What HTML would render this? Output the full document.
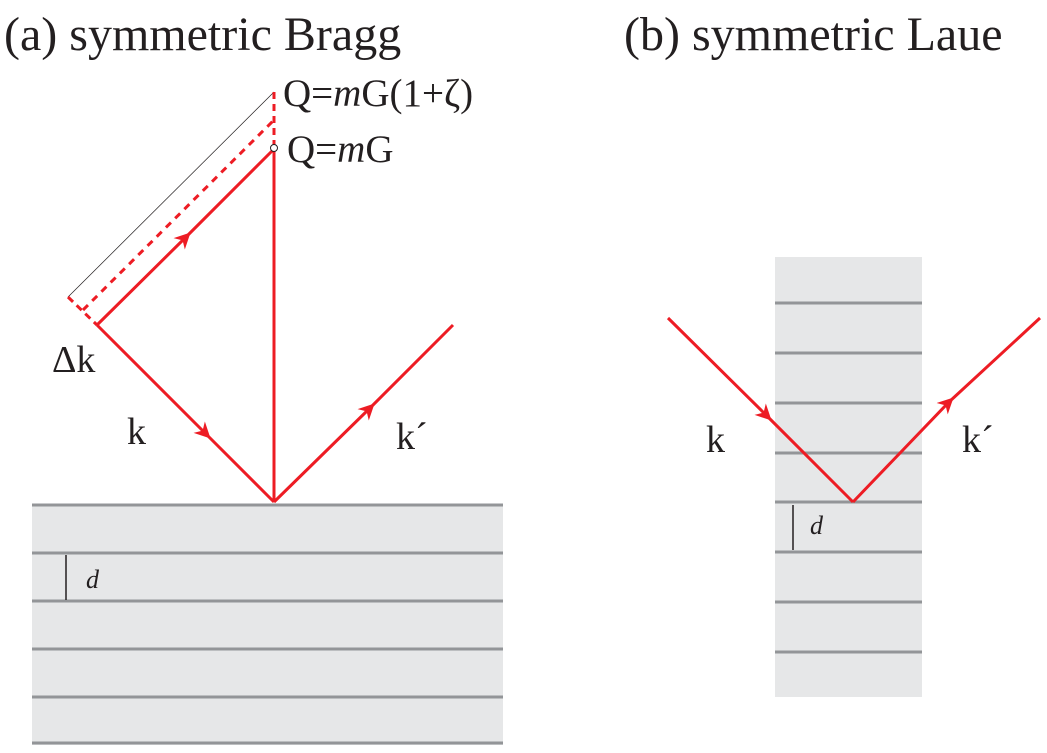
<!DOCTYPE html>
<html><head><meta charset="utf-8"><style>
body{margin:0;background:#fff}
svg{display:block}
text{font-family:"Liberation Serif",serif;fill:#231f20}
</style></head><body>
<svg width="1047" height="753" viewBox="0 0 1047 753">
<defs>
<marker id="ar" viewBox="0 0 10 10" refX="6" refY="5" markerWidth="18" markerHeight="16" orient="auto" markerUnits="userSpaceOnUse">
<path d="M0,0 L10,5 L0,10 L3,5 Z" fill="#ed1c24" stroke="none"/></marker>
</defs>
<text x="4" y="50" font-size="48">(a) symmetric Bragg</text>
<text x="624" y="50" font-size="48">(b) symmetric Laue</text>

<g>
<rect x="32" y="505" width="471" height="240" fill="#e6e7e8"/>
<g stroke="#939598" stroke-width="3">
<line x1="32" y1="505" x2="503" y2="505"/><line x1="32" y1="553" x2="503" y2="553"/>
<line x1="32" y1="601" x2="503" y2="601"/><line x1="32" y1="649" x2="503" y2="649"/>
<line x1="32" y1="697" x2="503" y2="697"/><line x1="32" y1="743" x2="503" y2="743"/>
</g>
<line x1="66" y1="555" x2="66" y2="600" stroke="#231f20" stroke-width="1.5"/>
<text x="86" y="588" font-size="26" font-style="italic">d</text>
</g>

<g>
<rect x="775" y="257" width="147" height="440" fill="#e6e7e8"/>
<g stroke="#939598" stroke-width="3">
<line x1="775" y1="303" x2="922" y2="303"/><line x1="775" y1="353" x2="922" y2="353"/>
<line x1="775" y1="403" x2="922" y2="403"/><line x1="775" y1="453" x2="922" y2="453"/>
<line x1="775" y1="502" x2="922" y2="502"/><line x1="775" y1="552" x2="922" y2="552"/>
<line x1="775" y1="602" x2="922" y2="602"/><line x1="775" y1="652" x2="922" y2="652"/>
</g>
<line x1="793" y1="505" x2="793" y2="550" stroke="#231f20" stroke-width="1.5"/>
<text x="810" y="534" font-size="26" font-style="italic">d</text>
</g>

<g stroke="#ed1c24" stroke-width="3" fill="none">
<line x1="68" y1="297" x2="274" y2="92" stroke="#231f20" stroke-width="0.7"/>
<line x1="83" y1="310" x2="274" y2="120" stroke-dasharray="7,6"/>
<line x1="274" y1="92" x2="274" y2="148" stroke-dasharray="7,5"/>
<line x1="68" y1="297" x2="97" y2="325" stroke-dasharray="7,5"/>
<polyline points="97,325 186,237 273,150" marker-mid="url(#ar)"/>
<polyline points="97,325 206,434 274,502" marker-mid="url(#ar)"/>
<polyline points="274,502 370,408 453,325" marker-mid="url(#ar)"/>
<line x1="274" y1="502" x2="274" y2="151"/>
<circle cx="274" cy="148" r="3.5" fill="#fff" stroke="#231f20" stroke-width="1"/>
</g>

<g stroke="#ed1c24" stroke-width="3" fill="none">
<polyline points="668,318 767,416 853,502" marker-mid="url(#ar)"/>
<polyline points="853,502 949,402 1040,318" marker-mid="url(#ar)"/>
</g>

<text x="283" y="106" font-size="39">Q=<tspan font-style="italic">m</tspan>G(1+ζ)</text>
<text x="287" y="162" font-size="39">Q=<tspan font-style="italic">m</tspan>G</text>
<text x="52" y="372" font-size="38">Δk</text>
<text x="127" y="444" font-size="38">k</text>
<text x="396" y="449" font-size="38">k´</text>
<text x="706" y="452" font-size="38">k</text>
<text x="962" y="452" font-size="38">k´</text>
</svg>
</body></html>
